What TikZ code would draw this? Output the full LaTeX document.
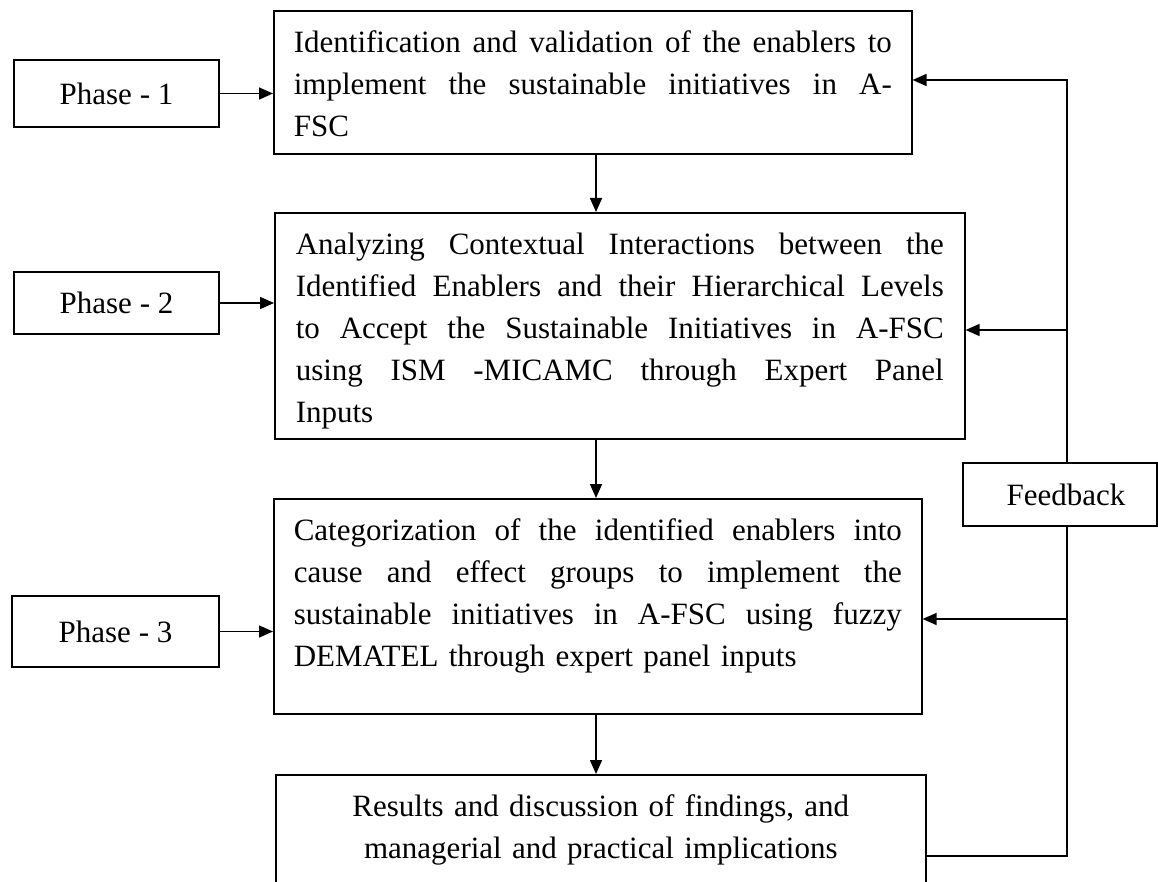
\documentclass[tikz,border=0pt]{standalone}
\usepackage{fontspec}
\setmainfont{Liberation Serif}
\usetikzlibrary{arrows.meta}
\newcommand{\jline}[1]{\hbox to \linewidth{\spaceskip=0.25em plus 1fil\relax\xspaceskip=0.25em plus 1fil\relax #1}\par}
\newcommand{\boxtext}[3]{\parbox[c][#1][t]{\linewidth}{\vspace*{#2}#3}}
\begin{document}
\begin{tikzpicture}[x=1pt,y=-1pt,
  every node/.style={font=\fontsize{31}{42}\selectfont},
  frame/.style={draw, line width=1.6pt},
  bigbox/.style={frame, anchor=north west, inner ysep=0pt},
  phasebox/.style={frame, inner sep=0pt},
  conn/.style={line width=1.6pt},
  arr/.style={line width=1.6pt, -{Triangle[length=14pt,width=12pt]}}]
\useasboundingbox (0,0) rectangle (1158,882);
\clip (0,0) rectangle (1158,882);

\node[phasebox, minimum width=205pt, minimum height=67pt] (p1) at (116.5,93.5) {Phase - 1};
\node[phasebox, minimum width=205pt, minimum height=62pt] (p2) at (116.5,303) {Phase - 2};
\node[phasebox, minimum width=207pt, minimum height=71pt] (p3) at (115.5,631.5) {Phase - 3};

\node[bigbox, inner xsep=20pt, text width=598pt] (b1) at (273,10)
  {\boxtext{143pt}{20pt}{\jline{Identification and validation of the enablers to}\jline{implement the sustainable initiatives in A-}FSC}};
\node[bigbox, inner xsep=21pt, text width=648pt] (b2) at (274,212)
  {\boxtext{226pt}{20pt}{\jline{Analyzing Contextual Interactions between the}\jline{Identified Enablers and their Hierarchical Levels}\jline{to Accept the Sustainable Initiatives in A-FSC}\jline{using ISM -MICAMC through Expert Panel}Inputs}};
\node[bigbox, inner xsep=20pt, text width=608pt] (b3) at (273,498)
  {\boxtext{215pt}{20pt}{\jline{Categorization of the identified enablers into}\jline{cause and effect groups to implement the}\jline{sustainable initiatives in A-FSC using fuzzy}DEMATEL through expert panel inputs}};
\node[bigbox, inner xsep=20pt, text width=610pt] (b4) at (275,774)
  {\boxtext{150pt}{20pt}{\centering Results and discussion of findings, and\par managerial and practical implications\par}};

\node[phasebox, minimum width=194pt, minimum height=63pt] (fb) at (1060,494.5) {\hspace*{12pt}Feedback};

\coordinate (cx) at (596,0);
\coordinate (ftop) at (1067,80);
\coordinate (fbot) at (1067,856);
\coordinate (f2) at (1067,330);
\coordinate (f3) at (1067,619);

\draw[arr] (p1.east) -- (p1.east -| b1.west);
\draw[arr] (p2.east) -- (p2.east -| b2.west);
\draw[arr] (p3.east) -- (p3.east -| b3.west);
\draw[arr] (b1.south -| cx) -- (b2.north -| cx);
\draw[arr] (b2.south -| cx) -- (b3.north -| cx);
\draw[arr] (b3.south -| cx) -- (b4.north -| cx);
\draw[conn] (fbot -| b4.east) -- (fbot) -- (fb.south -| fbot);
\draw[arr] (fb.north -| fbot) -- (ftop) -- (ftop -| b1.east);
\draw[arr] (f2) -- (f2 -| b2.east);
\draw[arr] (f3) -- (f3 -| b3.east);
\end{tikzpicture}
\end{document}
